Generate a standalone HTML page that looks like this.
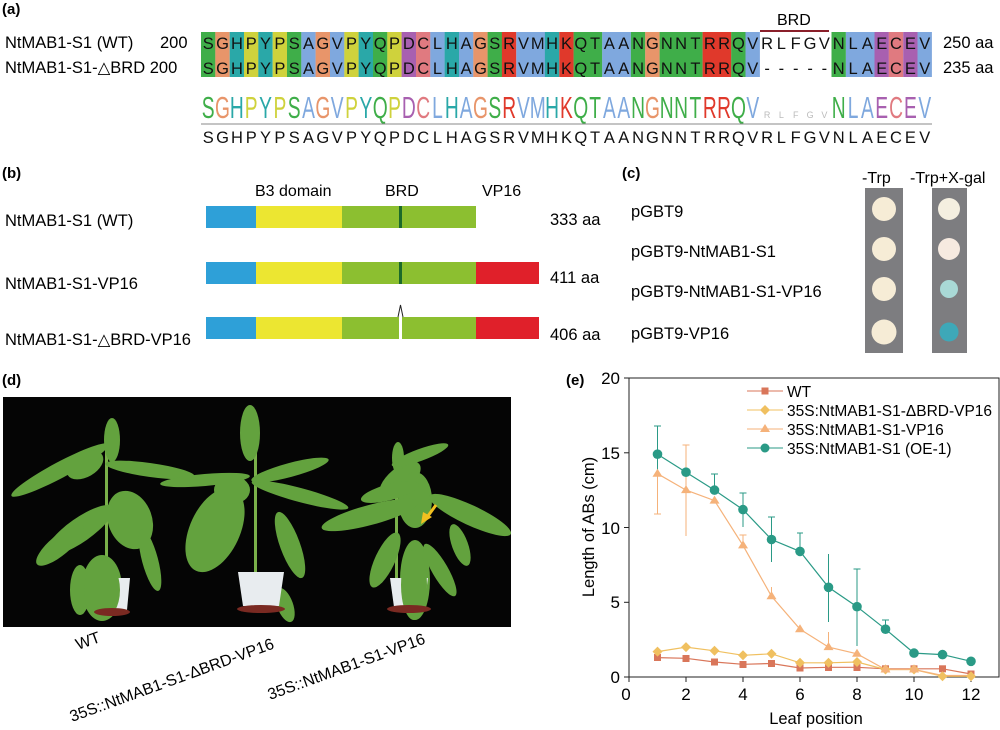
<!DOCTYPE html>
<html><head><meta charset="utf-8"><style>
html,body{margin:0;padding:0;background:#fff;}
svg{display:block;font-family:"Liberation Sans",sans-serif;}
</style></head><body>
<svg width="1000" height="730" viewBox="0 0 1000 730" xmlns="http://www.w3.org/2000/svg">
<!-- Panel a -->
<text x="2" y="14" font-size="15" font-weight="bold">(a)</text>
<text x="5" y="48" font-size="16.5">NtMAB1-S1 (WT)</text>
<text x="160" y="48" font-size="16.5">200</text>
<text x="5" y="73" font-size="16.5">NtMAB1-S1-△BRD 200</text>
<text x="943" y="48" font-size="16.5">250 aa</text>
<text x="943" y="73" font-size="16.5">235 aa</text>
<text x="777" y="25" font-size="16">BRD</text>
<line x1="760" y1="31" x2="829" y2="31" stroke="#8a1f2a" stroke-width="2"/>
<g>
<rect x="201" y="32" width="14.4" height="45" fill="#3fae49"/>
<rect x="215.3" y="32" width="14.4" height="45" fill="#e8956a"/>
<rect x="229.7" y="32" width="14.4" height="45" fill="#2aa8a8"/>
<rect x="244" y="32" width="14.4" height="45" fill="#cfd23c"/>
<rect x="258.3" y="32" width="14.4" height="45" fill="#2aa8a8"/>
<rect x="272.7" y="32" width="14.4" height="45" fill="#cfd23c"/>
<rect x="287" y="32" width="14.4" height="45" fill="#3fae49"/>
<rect x="301.3" y="32" width="14.4" height="45" fill="#7fa8de"/>
<rect x="315.6" y="32" width="14.4" height="45" fill="#e8956a"/>
<rect x="330" y="32" width="14.4" height="45" fill="#7fa8de"/>
<rect x="344.3" y="32" width="14.4" height="45" fill="#cfd23c"/>
<rect x="358.6" y="32" width="14.4" height="45" fill="#2aa8a8"/>
<rect x="373" y="32" width="14.4" height="45" fill="#3fae49"/>
<rect x="387.3" y="32" width="14.4" height="45" fill="#cfd23c"/>
<rect x="401.6" y="32" width="14.4" height="45" fill="#a860b0"/>
<rect x="416" y="32" width="14.4" height="45" fill="#e07a80"/>
<rect x="430.3" y="32" width="14.4" height="45" fill="#7fa8de"/>
<rect x="444.6" y="32" width="14.4" height="45" fill="#2aa8a8"/>
<rect x="459" y="32" width="14.4" height="45" fill="#7fa8de"/>
<rect x="473.3" y="32" width="14.4" height="45" fill="#e8956a"/>
<rect x="487.6" y="32" width="14.4" height="45" fill="#3fae49"/>
<rect x="501.9" y="32" width="14.4" height="45" fill="#e0392b"/>
<rect x="516.3" y="32" width="28.7" height="45" fill="#7fa8de"/>
<rect x="544.9" y="32" width="14.4" height="45" fill="#2aa8a8"/>
<rect x="559.3" y="32" width="14.4" height="45" fill="#e0392b"/>
<rect x="573.6" y="32" width="28.7" height="45" fill="#3fae49"/>
<rect x="602.2" y="32" width="28.7" height="45" fill="#7fa8de"/>
<rect x="630.9" y="32" width="14.4" height="45" fill="#3fae49"/>
<rect x="645.2" y="32" width="14.4" height="45" fill="#e8956a"/>
<rect x="659.6" y="32" width="43" height="45" fill="#3fae49"/>
<rect x="702.6" y="32" width="28.7" height="45" fill="#e0392b"/>
<rect x="731.2" y="32" width="14.4" height="45" fill="#3fae49"/>
<rect x="745.5" y="32" width="14.4" height="45" fill="#7fa8de"/>
<rect x="831.5" y="32" width="14.4" height="45" fill="#3fae49"/>
<rect x="845.9" y="32" width="28.7" height="45" fill="#7fa8de"/>
<rect x="874.5" y="32" width="14.4" height="45" fill="#a860b0"/>
<rect x="888.8" y="32" width="14.4" height="45" fill="#e07a80"/>
<rect x="903.2" y="32" width="14.4" height="45" fill="#a860b0"/>
<rect x="917.5" y="32" width="14.4" height="45" fill="#7fa8de"/>
</g>
<text y="49" font-size="16.5" text-anchor="middle" fill="#111" x="208.2 222.5 236.9 251.2 265.5 279.9 294.2 308.5 322.8 337.2 351.5 365.8 380.2 394.5 408.8 423.2 437.5 451.8 466.1 480.5 494.8 509.1 523.5 537.8 552.1 566.5 580.8 595.1 609.4 623.8 638.1 652.4 666.8 681.1 695.4 709.8 724.1 738.4 752.7 767.1 781.4 795.7 810.1 824.4 838.7 853.1 867.4 881.7 896 910.4 924.7">SGHPYPSAGVPYQPDCLHAGSRVMHKQTAANGNNTRRQVRLFGVNLAECEV</text>
<text y="74" font-size="16.5" text-anchor="middle" fill="#111" x="208.2 222.5 236.9 251.2 265.5 279.9 294.2 308.5 322.8 337.2 351.5 365.8 380.2 394.5 408.8 423.2 437.5 451.8 466.1 480.5 494.8 509.1 523.5 537.8 552.1 566.5 580.8 595.1 609.4 623.8 638.1 652.4 666.8 681.1 695.4 709.8 724.1 738.4 752.7 767.1 781.4 795.7 810.1 824.4 838.7 853.1 867.4 881.7 896 910.4 924.7">SGHPYPSAGVPYQPDCLHAGSRVMHKQTAANGNNTRRQV-----NLAECEV</text>
<!-- logo -->
<g transform="scale(0.62,1)" font-size="31" text-anchor="middle">
<text y="118">
<tspan x="335.8" fill="#3fae49">S</tspan><tspan x="358.9" fill="#e8956a">G</tspan><tspan x="382" fill="#2aa8a8">H</tspan><tspan x="405.1" fill="#cfd23c">P</tspan><tspan x="428.3" fill="#2aa8a8">Y</tspan><tspan x="451.4" fill="#cfd23c">P</tspan><tspan x="474.5" fill="#3fae49">S</tspan><tspan x="497.6" fill="#7fa8de">A</tspan><tspan x="520.7" fill="#e8956a">G</tspan><tspan x="543.8" fill="#7fa8de">V</tspan><tspan x="567" fill="#cfd23c">P</tspan><tspan x="590.1" fill="#2aa8a8">Y</tspan><tspan x="613.2" fill="#3fae49">Q</tspan><tspan x="636.3" fill="#cfd23c">P</tspan><tspan x="659.4" fill="#a860b0">D</tspan><tspan x="682.5" fill="#e07a80">C</tspan><tspan x="705.6" fill="#7fa8de">L</tspan><tspan x="728.7" fill="#2aa8a8">H</tspan><tspan x="751.8" fill="#7fa8de">A</tspan><tspan x="775" fill="#e8956a">G</tspan><tspan x="798.1" fill="#3fae49">S</tspan><tspan x="821.2" fill="#e0392b">R</tspan><tspan x="844.3" fill="#7fa8de">V</tspan><tspan x="867.4" fill="#7fa8de">M</tspan><tspan x="890.5" fill="#2aa8a8">H</tspan><tspan x="913.6" fill="#e0392b">K</tspan><tspan x="936.7" fill="#3fae49">Q</tspan><tspan x="959.9" fill="#3fae49">T</tspan><tspan x="983" fill="#7fa8de">A</tspan><tspan x="1006.1" fill="#7fa8de">A</tspan><tspan x="1029.2" fill="#3fae49">N</tspan><tspan x="1052.3" fill="#e8956a">G</tspan><tspan x="1075.4" fill="#3fae49">N</tspan><tspan x="1098.5" fill="#3fae49">N</tspan><tspan x="1121.6" fill="#3fae49">T</tspan><tspan x="1144.8" fill="#e0392b">R</tspan><tspan x="1167.9" fill="#e0392b">R</tspan><tspan x="1191" fill="#3fae49">Q</tspan><tspan x="1214.1" fill="#7fa8de">V</tspan><tspan x="1352.8" fill="#3fae49">N</tspan><tspan x="1375.9" fill="#7fa8de">L</tspan><tspan x="1399" fill="#7fa8de">A</tspan><tspan x="1422.1" fill="#a860b0">E</tspan><tspan x="1445.2" fill="#e07a80">C</tspan><tspan x="1468.4" fill="#a860b0">E</tspan><tspan x="1491.5" fill="#7fa8de">V</tspan>
</text>
</g>
<text y="118" font-size="9" text-anchor="middle" fill="#bbb" x="767.1 781.4 795.7 810.1 824.4">RLFGV</text>
<line x1="201" y1="124" x2="932" y2="124" stroke="#888" stroke-width="1"/>
<text y="143" font-size="16.5" text-anchor="middle" fill="#111" x="208.2 222.5 236.9 251.2 265.5 279.9 294.2 308.5 322.8 337.2 351.5 365.8 380.2 394.5 408.8 423.2 437.5 451.8 466.1 480.5 494.8 509.1 523.5 537.8 552.1 566.5 580.8 595.1 609.4 623.8 638.1 652.4 666.8 681.1 695.4 709.8 724.1 738.4 752.7 767.1 781.4 795.7 810.1 824.4 838.7 853.1 867.4 881.7 896 910.4 924.7">SGHPYPSAGVPYQPDCLHAGSRVMHKQTAANGNNTRRQVRLFGVNLAECEV</text>

<!-- Panel b -->
<text x="2" y="178" font-size="15" font-weight="bold">(b)</text>
<text x="255" y="196" font-size="16">B3 domain</text>
<text x="385" y="196" font-size="16">BRD</text>
<text x="482" y="196" font-size="16">VP16</text>
<text x="5" y="226" font-size="16.5">NtMAB1-S1 (WT)</text>
<text x="5" y="289" font-size="16.5">NtMAB1-S1-VP16</text>
<text x="5" y="345" font-size="16.5">NtMAB1-S1-△BRD-VP16</text>
<text x="550" y="225" font-size="16.5">333 aa</text>
<text x="550" y="283" font-size="16.5">411 aa</text>
<text x="550" y="340" font-size="16.5">406 aa</text>
<rect x="206" y="206" width="50" height="22" fill="#2ea0d8"/>
<rect x="256" y="206" width="86" height="22" fill="#ece631"/>
<rect x="342" y="206" width="134" height="22" fill="#8cbf30"/>
<rect x="399" y="206" width="3" height="22" fill="#1b6a2a"/>
<rect x="206" y="262" width="50" height="22" fill="#2ea0d8"/>
<rect x="256" y="262" width="86" height="22" fill="#ece631"/>
<rect x="342" y="262" width="134" height="22" fill="#8cbf30"/>
<rect x="399" y="262" width="3" height="22" fill="#1b6a2a"/>
<rect x="476" y="262" width="63" height="22" fill="#e0202a"/>
<rect x="206" y="317" width="50" height="22" fill="#2ea0d8"/>
<rect x="256" y="317" width="86" height="22" fill="#ece631"/>
<rect x="342" y="317" width="134" height="22" fill="#8cbf30"/>
<rect x="399" y="317" width="3" height="22" fill="#fff"/>
<polyline points="398,317 400.5,305 403,317" fill="none" stroke="#222" stroke-width="1"/>
<rect x="476" y="317" width="63" height="22" fill="#e0202a"/>

<!-- Panel c -->
<text x="622" y="178" font-size="15" font-weight="bold">(c)</text>
<text x="862" y="183" font-size="16">-Trp</text>
<text x="910" y="183" font-size="16">-Trp+X-gal</text>
<text x="631" y="217" font-size="16.5">pGBT9</text>
<text x="631" y="257" font-size="16.5">pGBT9-NtMAB1-S1</text>
<text x="631" y="297" font-size="16.5">pGBT9-NtMAB1-S1-VP16</text>
<text x="631" y="339" font-size="16.5">pGBT9-VP16</text>
<rect x="865" y="188" width="38" height="165" fill="#7d7d80"/>
<rect x="932" y="188" width="35" height="165" fill="#7d7d80"/>
<circle cx="884" cy="209" r="12" fill="#f6ecd6"/>
<circle cx="884" cy="249" r="12" fill="#f6ecd6"/>
<circle cx="884" cy="289" r="12" fill="#f6ecd6"/>
<circle cx="884" cy="332" r="12.5" fill="#f6ecd6"/>
<circle cx="949" cy="209" r="11" fill="#f4efe0"/>
<circle cx="949" cy="249" r="11" fill="#f6eae0"/>
<circle cx="949" cy="289" r="9" fill="#a9d9d6"/>
<circle cx="949" cy="332" r="9.5" fill="#3ea8b8"/>

<!-- Panel d -->
<text x="2" y="385" font-size="15" font-weight="bold">(d)</text>
<rect x="3" y="397" width="508" height="230" fill="#050505"/>
<g fill="#63a23e">
<rect x="105" y="430" width="3" height="160" fill="#7ab04a"/>
<ellipse cx="130" cy="520" rx="22" ry="30" transform="rotate(-20 130 520)"/>
<ellipse cx="80" cy="530" rx="40" ry="12" transform="rotate(-35 80 530)"/>
<ellipse cx="60" cy="470" rx="55" ry="8" transform="rotate(-28 60 470)"/>
<ellipse cx="150" cy="470" rx="45" ry="7" transform="rotate(8 150 470)"/>
<ellipse cx="85" cy="465" rx="20" ry="12" transform="rotate(-30 85 465)"/>
<ellipse cx="102" cy="588" rx="20" ry="33"/>
<ellipse cx="80" cy="590" rx="10" ry="25"/>
<ellipse cx="150" cy="560" rx="8" ry="32" transform="rotate(-15 150 560)"/>
<ellipse cx="112" cy="440" rx="8" ry="22"/>
<ellipse cx="60" cy="545" rx="30" ry="10" transform="rotate(-40 60 545)"/>
<rect x="254" y="430" width="3" height="155" fill="#7ab04a"/>
<ellipse cx="250" cy="433" rx="10" ry="28"/>
<ellipse cx="215" cy="530" rx="25" ry="45" transform="rotate(25 215 530)"/>
<ellipse cx="300" cy="495" rx="50" ry="7" transform="rotate(15 300 495)"/>
<ellipse cx="205" cy="480" rx="45" ry="6" transform="rotate(-5 205 480)"/>
<ellipse cx="290" cy="470" rx="40" ry="7" transform="rotate(-15 290 470)"/>
<ellipse cx="290" cy="545" rx="10" ry="35" transform="rotate(-20 290 545)"/>
<ellipse cx="232" cy="490" rx="18" ry="14"/>
<ellipse cx="285" cy="605" rx="8" ry="18" transform="rotate(-20 285 605)"/>
<rect x="395" y="455" width="3" height="130" fill="#7ab04a"/>
<ellipse cx="400" cy="480" rx="25" ry="12" transform="rotate(-40 400 480)"/>
<ellipse cx="415" cy="500" rx="17" ry="28"/>
<ellipse cx="370" cy="515" rx="50" ry="10" transform="rotate(-15 370 515)"/>
<ellipse cx="470" cy="515" rx="45" ry="10" transform="rotate(25 470 515)"/>
<ellipse cx="390" cy="492" rx="30" ry="8" transform="rotate(-15 390 492)"/>
<ellipse cx="415" cy="580" rx="15" ry="40"/>
<ellipse cx="385" cy="560" rx="10" ry="30" transform="rotate(25 385 560)"/>
<ellipse cx="440" cy="570" rx="8" ry="30" transform="rotate(-30 440 570)"/>
<ellipse cx="460" cy="545" rx="8" ry="22" transform="rotate(-20 460 545)"/>
<ellipse cx="398" cy="458" rx="6" ry="16"/>
<ellipse cx="420" cy="455" rx="30" ry="6" transform="rotate(-20 420 455)"/>
</g>
<g fill="#e8ecef">
<path d="M108 578 L130 578 L127 610 L112 610 Z"/>
<path d="M238 572 L284 572 L279 606 L243 606 Z"/>
<path d="M390 578 L428 578 L424 607 L394 607 Z"/>
</g>
<g fill="#63a23e"><ellipse cx="102" cy="590" rx="18" ry="30"/><ellipse cx="414" cy="585" rx="13" ry="35"/></g>
<ellipse cx="261" cy="609" rx="24" ry="4" fill="#7a2a22"/>
<ellipse cx="409" cy="609" rx="22" ry="4" fill="#7a2a22"/>
<ellipse cx="112" cy="612" rx="18" ry="4" fill="#7a2a22"/>
<path d="M436 505 L425 520" stroke="#f2c020" stroke-width="3"/>
<path d="M421 524 L423 512 L432 517 Z" fill="#f2c020"/>
<text x="0" y="0" font-size="16" transform="translate(78,650) rotate(-20)">WT</text>
<text x="0" y="0" font-size="16" transform="translate(72,722) rotate(-20)">35S::NtMAB1-S1-ΔBRD-VP16</text>
<text x="0" y="0" font-size="16" transform="translate(270,700) rotate(-20)">35S::NtMAB1-S1-VP16</text>

<!-- Panel e -->
<text x="566" y="385" font-size="15" font-weight="bold">(e)</text>
<rect x="629" y="378" width="370" height="299" fill="none" stroke="#222" stroke-width="1"/>
<g stroke="#222" stroke-width="1">
<line x1="624" y1="378" x2="629" y2="378"/><line x1="624" y1="452.8" x2="629" y2="452.8"/><line x1="624" y1="527.5" x2="629" y2="527.5"/><line x1="624" y1="602.3" x2="629" y2="602.3"/><line x1="624" y1="677" x2="629" y2="677"/>
<line x1="629" y1="677" x2="629" y2="682"/><line x1="686" y1="677" x2="686" y2="682"/><line x1="743" y1="677" x2="743" y2="682"/><line x1="800" y1="677" x2="800" y2="682"/><line x1="857" y1="677" x2="857" y2="682"/><line x1="914" y1="677" x2="914" y2="682"/><line x1="971" y1="677" x2="971" y2="682"/>
</g>
<g font-size="17" text-anchor="end">
<text x="620" y="384">20</text><text x="620" y="459">15</text><text x="620" y="534">10</text><text x="620" y="608">5</text><text x="620" y="683">0</text>
</g>
<g font-size="17" text-anchor="middle">
<text x="626" y="700">0</text><text x="686" y="700">2</text><text x="743" y="700">4</text><text x="800" y="700">6</text><text x="857" y="700">8</text><text x="914" y="700">10</text><text x="971" y="700">12</text>
</g>
<text x="816" y="724" font-size="16.5" text-anchor="middle">Leaf position</text>
<text font-size="16.5" text-anchor="middle" transform="translate(594,527) rotate(-90)">Length of ABs (cm)</text>
<g stroke-width="1">
<g stroke="#2a9a86">
<line x1="657.5" y1="426" x2="657.5" y2="483"/><line x1="654" y1="426" x2="661" y2="426"/>
<line x1="714.5" y1="474" x2="714.5" y2="490"/><line x1="711" y1="474" x2="718" y2="474"/>
<line x1="743" y1="493" x2="743" y2="527"/><line x1="739.5" y1="493" x2="746.5" y2="493"/>
<line x1="771.5" y1="517" x2="771.5" y2="562"/><line x1="768" y1="517" x2="775" y2="517"/>
<line x1="800" y1="533" x2="800" y2="551"/><line x1="797" y1="533" x2="803" y2="533"/>
<line x1="828.5" y1="554" x2="828.5" y2="622"/>
<line x1="857" y1="569" x2="857" y2="646"/><line x1="853.5" y1="569" x2="860.5" y2="569"/>
<line x1="885.5" y1="620" x2="885.5" y2="629"/><line x1="882" y1="620" x2="889" y2="620"/>
</g>
<g stroke="#f5b27a">
<line x1="686" y1="445" x2="686" y2="536"/><line x1="682.5" y1="445" x2="689.5" y2="445"/>
<line x1="657.5" y1="474" x2="657.5" y2="514"/><line x1="654" y1="514" x2="661" y2="514"/>
<line x1="743" y1="535" x2="743" y2="545"/><line x1="739.5" y1="535" x2="746.5" y2="535"/>
<line x1="771.5" y1="587" x2="771.5" y2="596"/>
<line x1="828.5" y1="632" x2="828.5" y2="647"/>
</g>
</g>
<polyline fill="none" stroke="#d9765a" stroke-width="1.2" points="657.5,657.6 686,658.3 714.5,662 743,664.3 771.5,663.5 800,668 828.5,667.3 857,667.3 885.5,668.8 914,668.8 942.5,668.8 971,674"/>
<polyline fill="none" stroke="#f0c060" stroke-width="1.2" points="657.5,651.6 686,647.1 714.5,650.8 743,655.3 771.5,653.8 800,662.8 828.5,662.8 857,662 885.5,669.5 914,669.5 942.5,676.3 971,676.3"/>
<polyline fill="none" stroke="#f5b27a" stroke-width="1.2" points="657.5,473.7 686,490.1 714.5,500.6 743,545.4 771.5,596.3 800,629.2 828.5,647.1 857,653.8 885.5,669.5 914,669.5 942.5,675.5 971,675.5"/>
<polyline fill="none" stroke="#2a9a86" stroke-width="1.2" points="657.5,454.2 686,472.2 714.5,490.1 743,509.6 771.5,539.5 800,551.4 828.5,587.3 857,606.7 885.5,629.2 914,653.1 942.5,654.6 971,661.3"/>
<g fill="#d9765a">
<rect x="654" y="654" width="7" height="7"/><rect x="682.5" y="655" width="7" height="7"/><rect x="711" y="658.5" width="7" height="7"/><rect x="739.5" y="661" width="7" height="7"/><rect x="768" y="660" width="7" height="7"/><rect x="796.5" y="664.5" width="7" height="7"/><rect x="825" y="664" width="7" height="7"/><rect x="853.5" y="664" width="7" height="7"/><rect x="882" y="665.3" width="7" height="7"/><rect x="910.5" y="665.3" width="7" height="7"/><rect x="939" y="665.3" width="7" height="7"/><rect x="967.5" y="670.5" width="7" height="7"/>
</g>
<g fill="#f0c060">
<path d="M657.5 646.6l5 5-5 5-5-5z"/><path d="M686 642.1l5 5-5 5-5-5z"/><path d="M714.5 645.8l5 5-5 5-5-5z"/><path d="M743 650.3l5 5-5 5-5-5z"/><path d="M771.5 648.8l5 5-5 5-5-5z"/><path d="M800 657.8l5 5-5 5-5-5z"/><path d="M828.5 657.8l5 5-5 5-5-5z"/><path d="M857 657l5 5-5 5-5-5z"/><path d="M885.5 664.5l5 5-5 5-5-5z"/><path d="M914 664.5l5 5-5 5-5-5z"/><path d="M942.5 671.3l5 5-5 5-5-5z"/><path d="M971 671.3l5 5-5 5-5-5z"/>
</g>
<g fill="#f5b27a">
<path d="M657.5 468.7l5 8h-10z"/><path d="M686 485.1l5 8h-10z"/><path d="M714.5 495.6l5 8h-10z"/><path d="M743 540.4l5 8h-10z"/><path d="M771.5 591.3l5 8h-10z"/><path d="M800 624.2l5 8h-10z"/><path d="M828.5 642.1l5 8h-10z"/><path d="M857 648.8l5 8h-10z"/><path d="M885.5 664.5l5 8h-10z"/><path d="M914 664.5l5 8h-10z"/>
</g>
<g fill="#2a9a86">
<circle cx="657.5" cy="454.2" r="4.8"/><circle cx="686" cy="472.2" r="4.8"/><circle cx="714.5" cy="490.1" r="4.8"/><circle cx="743" cy="509.6" r="4.8"/><circle cx="771.5" cy="539.5" r="4.8"/><circle cx="800" cy="551.4" r="4.8"/><circle cx="828.5" cy="587.3" r="4.8"/><circle cx="857" cy="606.7" r="4.8"/><circle cx="885.5" cy="629.2" r="4.8"/><circle cx="914" cy="653.1" r="4.8"/><circle cx="942.5" cy="654.6" r="4.8"/><circle cx="971" cy="661.3" r="4.8"/>
</g>
<g font-size="15.5">
<line x1="747" y1="391" x2="783" y2="391" stroke="#d9765a"/><rect x="761.5" y="387.5" width="7" height="7" fill="#d9765a"/>
<text x="787" y="397">WT</text>
<line x1="747" y1="410" x2="783" y2="410" stroke="#f0c060"/><path d="M765 405l5 5-5 5-5-5z" fill="#f0c060"/>
<text x="787" y="416">35S:NtMAB1-S1-ΔBRD-VP16</text>
<line x1="747" y1="429" x2="783" y2="429" stroke="#f5b27a"/><path d="M765 424l5 8h-10z" fill="#f5b27a"/>
<text x="787" y="435">35S:NtMAB1-S1-VP16</text>
<line x1="747" y1="448" x2="783" y2="448" stroke="#2a9a86"/><circle cx="765" cy="448" r="4.5" fill="#2a9a86"/>
<text x="787" y="454">35S:NtMAB1-S1 (OE-1)</text>
</g>
</svg>
</body></html>
